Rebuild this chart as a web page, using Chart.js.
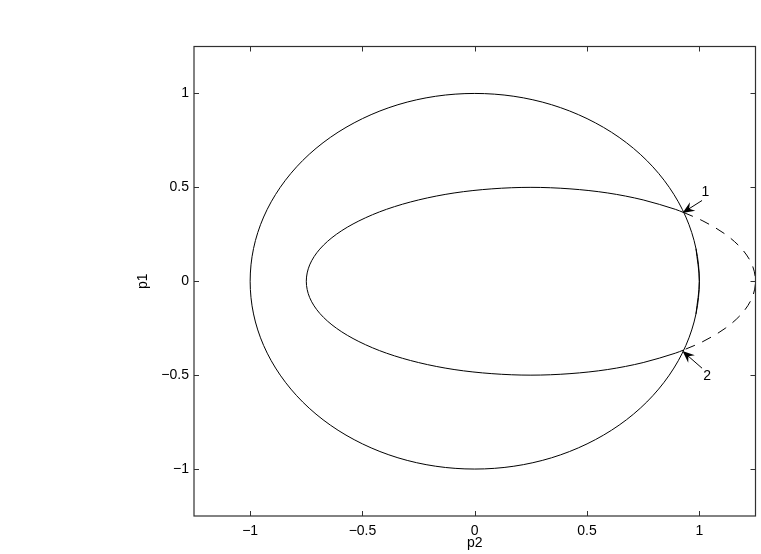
<!DOCTYPE html>
<html>
<head>
<meta charset="utf-8">
<script src="https://cdn.jsdelivr.net/npm/chart.js@4"></script>
<style>
  html, body { margin: 0; padding: 0; background: #fff; }
  #wrap { width: 761px; height: 554px; }
</style>
</head>
<body>
<div id="wrap"><canvas id="c" width="761" height="554"></canvas></div>
<script>
// Circle (solid); the path overlaps itself by one step at each end
const circleX = [0.985, 1, 0.985, 0.940, 0.866, 0.766, 0.643, 0.500, 0.342, 0.174, 0, -0.174, -0.342, -0.500, -0.643, -0.766, -0.866, -0.940, -0.985, -1, -0.985, -0.940, -0.866, -0.766, -0.643, -0.500, -0.342, -0.174, 0, 0.174, 0.342, 0.500, 0.643, 0.766, 0.866, 0.940, 0.985, 1, 0.985];
const circleY = [-0.174, 0, 0.174, 0.342, 0.500, 0.643, 0.766, 0.866, 0.940, 0.985, 1, 0.985, 0.940, 0.866, 0.766, 0.643, 0.500, 0.342, 0.174, 0, -0.174, -0.342, -0.500, -0.643, -0.766, -0.866, -0.940, -0.985, -1, -0.985, -0.940, -0.866, -0.766, -0.643, -0.500, -0.342, -0.174, 0, 0.174];

// Ellipse, solid part (inside the circle)
const ellipseSolidX = [0.930, 0.893, 0.750, 0.592, 0.424, 0.250, 0.076, -0.092, -0.250, -0.393, -0.516, -0.616, -0.690, -0.735, -0.750, -0.735, -0.690, -0.616, -0.516, -0.393, -0.250, -0.092, 0.076, 0.250, 0.424, 0.592, 0.750, 0.893, 0.930];
const ellipseSolidY = [0.366, 0.383, 0.433, 0.470, 0.492, 0.500, 0.492, 0.470, 0.433, 0.383, 0.321, 0.250, 0.171, 0.087, 0, -0.087, -0.171, -0.250, -0.321, -0.383, -0.433, -0.470, -0.492, -0.500, -0.492, -0.470, -0.433, -0.383, -0.366];

// Ellipse, dashed part (outside the circle)
const ellipseDashX = [0.930, 1.016, 1.116, 1.190, 1.235, 1.250, 1.235, 1.190, 1.116, 1.016, 0.930];
const ellipseDashY = [0.366, 0.321, 0.250, 0.171, 0.087, 0, -0.087, -0.171, -0.250, -0.321, -0.366];

// Arrows with labels
const arrowLabels = ['1', '2'];
const arrowTailX = [1.012, 1.012];
const arrowTailY = [0.430, -0.463];
const arrowTipX = [0.925, 0.925];
const arrowTipY = [0.364, -0.372];
const labelX = [1.027, 1.035];
const labelY = [0.474, -0.507];

// Ticks
const xTickValues = [-1, -0.5, 0, 0.5, 1];
const xTickLabels = ['\u22121', '\u22120.5', '0', '0.5', '1'];
const yTickValues = [-1, -0.5, 0, 0.5, 1];
const yTickLabels = ['\u22121', '\u22120.5', '0', '0.5', '1'];

const FONT = "'Liberation Sans', Helvetica, Arial, sans-serif";
Chart.defaults.color = '#000';
Chart.defaults.font.family = FONT;
Chart.defaults.font.size = 14;

function pts(xs, ys) { return xs.map((x, i) => ({ x: x, y: ys[i] })); }

const boxPlugin = {
  id: 'boxTicksArrows',
  afterDatasetsDraw(chart) {
    const ctx = chart.ctx;
    const a = chart.chartArea;
    const sx = chart.scales.x, sy = chart.scales.y;
    ctx.save();
    // arrows
    ctx.strokeStyle = '#000';
    ctx.fillStyle = '#000';
    ctx.lineWidth = 1;
    for (let i = 0; i < arrowLabels.length; i++) {
      const x0 = sx.getPixelForValue(arrowTailX[i]), y0 = sy.getPixelForValue(arrowTailY[i]);
      const x1 = sx.getPixelForValue(arrowTipX[i]), y1 = sy.getPixelForValue(arrowTipY[i]);
      const ang = Math.atan2(y1 - y0, x1 - x0);
      const L = 12, W = 5;
      const c = Math.cos(ang), s = Math.sin(ang);
      ctx.beginPath();
      ctx.moveTo(x0, y0);
      ctx.lineTo(x1 - c * L * 0.6, y1 - s * L * 0.6);
      ctx.stroke();
      ctx.beginPath();
      ctx.moveTo(x1, y1);
      ctx.lineTo(x1 - c * L - s * W, y1 - s * L + c * W);
      ctx.lineTo(x1 - c * L * 0.65, y1 - s * L * 0.65);
      ctx.lineTo(x1 - c * L + s * W, y1 - s * L - c * W);
      ctx.closePath();
      ctx.fill();
      ctx.font = '14px ' + FONT;
      ctx.textAlign = 'center';
      ctx.textBaseline = 'middle';
      ctx.fillText(arrowLabels[i], sx.getPixelForValue(labelX[i]), sy.getPixelForValue(labelY[i]));
    }
    // box
    ctx.strokeStyle = '#303030';
    ctx.lineWidth = 1.2;
    ctx.strokeRect(a.left, a.top, a.right - a.left, a.bottom - a.top);
    // inward ticks
    const T = 5;
    ctx.beginPath();
    xTickValues.forEach(v => {
      const p = Math.round(sx.getPixelForValue(v)) + 0.5;
      ctx.moveTo(p, a.bottom); ctx.lineTo(p, a.bottom - T);
      ctx.moveTo(p, a.top); ctx.lineTo(p, a.top + T);
    });
    yTickValues.forEach(v => {
      const p = Math.round(sy.getPixelForValue(v)) + 0.5;
      ctx.moveTo(a.left, p); ctx.lineTo(a.left + T, p);
      ctx.moveTo(a.right, p); ctx.lineTo(a.right - T, p);
    });
    ctx.lineWidth = 1;
    ctx.stroke();
    ctx.restore();
  }
};

new Chart(document.getElementById('c'), {
  type: 'scatter',
  data: {
    datasets: [
      { data: pts(circleX, circleY), showLine: true, tension: 0.335, borderColor: '#000', borderWidth: 1, pointRadius: 0 },
      { data: pts(ellipseSolidX, ellipseSolidY), showLine: true, tension: 0.335, borderColor: '#000', borderWidth: 1, pointRadius: 0 },
      { data: pts(ellipseDashX, ellipseDashY), showLine: true, tension: 0.335, borderColor: '#000', borderWidth: 1, borderDash: [10, 8], pointRadius: 0 }
    ]
  },
  options: {
    responsive: false,
    animation: false,
    events: [],
    layout: { padding: { top: 46.5, right: 5.5, left: 0, bottom: 0 } },
    plugins: { legend: { display: false }, tooltip: { enabled: false } },
    scales: {
      x: {
        type: 'linear', min: -1.25, max: 1.25,
        grid: { display: false, drawTicks: false },
        border: { display: false },
        title: { display: true, text: 'p2', font: { size: 14 }, padding: { top: 0, bottom: 2.6 } },
        ticks: { padding: 7, maxRotation: 0, autoSkip: false,
          callback: (v) => { const i = xTickValues.indexOf(v); return i >= 0 ? xTickLabels[i] : ''; } },
        afterBuildTicks: (s) => { s.ticks = xTickValues.map(v => ({ value: v })); },
        afterFit: (s) => { s.height = 38; }
      },
      y: {
        type: 'linear', min: -1.25, max: 1.25,
        grid: { display: false, drawTicks: false },
        border: { display: false },
        title: { display: true, text: 'p1', font: { size: 14 }, padding: { top: 134.6, bottom: 0 } },
        ticks: { padding: 5, autoSkip: false,
          callback: (v) => { const i = yTickValues.indexOf(v); return i >= 0 ? yTickLabels[i] : ''; } },
        afterBuildTicks: (s) => { s.ticks = yTickValues.map(v => ({ value: v })); },
        afterFit: (s) => { s.width = 194; }
      }
    }
  },
  plugins: [boxPlugin]
});
</script>
</body>
</html>
